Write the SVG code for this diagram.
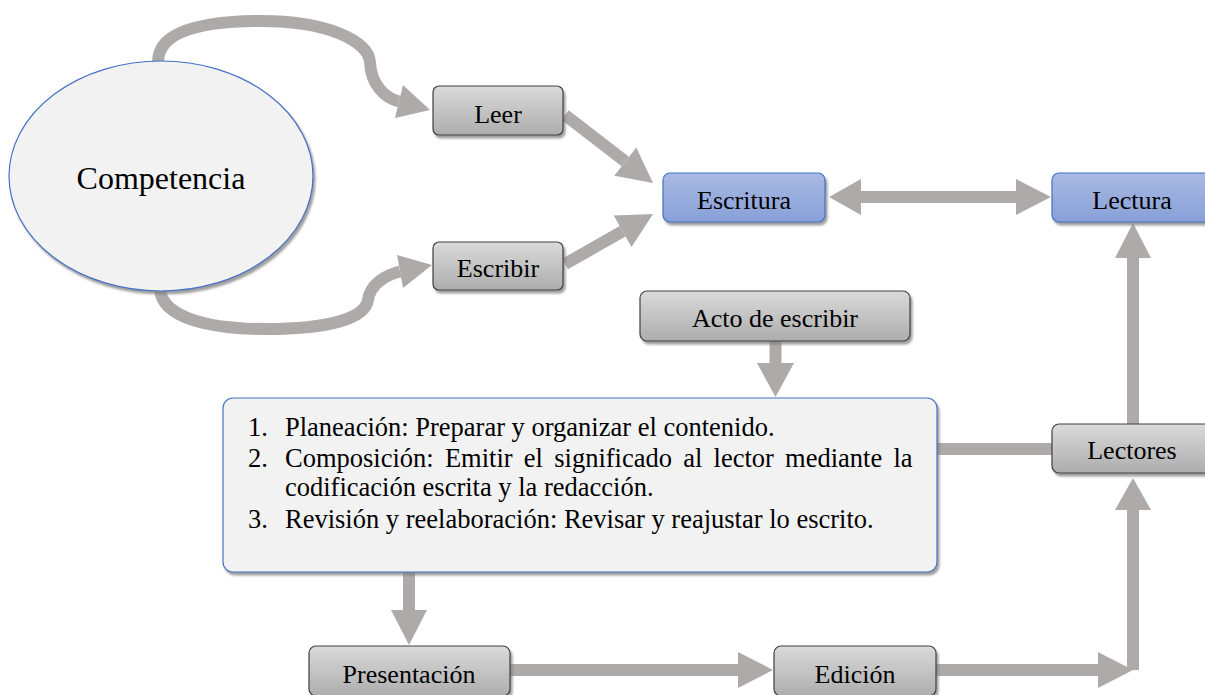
<svg xmlns="http://www.w3.org/2000/svg" width="1205" height="695" viewBox="0 0 1205 695">
<style>
.lbl{font-family:"Liberation Serif","Times New Roman","DejaVu Serif",serif;font-size:26px;fill:#000;text-anchor:middle}
.lst{font-family:"Liberation Serif","Times New Roman","DejaVu Serif",serif;font-size:26.5px;fill:#000}
.gbox{fill:url(#gGray);stroke:#404040;stroke-width:1.2}
.bbox{fill:url(#gBlue);stroke:#4472c4;stroke-width:1.2}
.shaft{stroke:#aeaaaa;stroke-width:12;fill:none}
.head{fill:#aeaaaa;stroke:none}
</style>
<defs>
<linearGradient id="gGray" x1="0" y1="0" x2="0" y2="1">
<stop offset="0" stop-color="#dadada"/>
<stop offset="1" stop-color="#adadad"/>
</linearGradient>
<linearGradient id="gBlue" x1="0" y1="0" x2="0" y2="1">
<stop offset="0" stop-color="#aabae3"/>
<stop offset="1" stop-color="#87a0d8"/>
</linearGradient>
<filter id="sh" x="-10%" y="-10%" width="125%" height="130%">
<feDropShadow dx="2" dy="3" stdDeviation="1.2" flood-color="#7f7f7f" flood-opacity="0.75"/>
</filter>
</defs>
<rect width="1205" height="695" fill="#ffffff"/>

<g id="connectors">
<path class="shaft" d="M158,62 C158,30 205,21 262,21 C325,21 368,40 370,62 C371,85 385,98 399,101.5"/>
<polygon class="head" points="430,110 403,85 395,118"/>
<path class="shaft" d="M160,289 C162,318 210,329 265,329 C330,329 365,318 368,300 C370,285 385,275 400,271.5"/>
<polygon class="head" points="432,265 397,255 403,288"/>
<line class="shaft" x1="565" y1="115" x2="625.3" y2="161.6"/>
<polygon class="head" points="653,183 614.3,175.8 636.3,147.4"/>
<line class="shaft" x1="565" y1="264" x2="622.6" y2="231.3"/>
<polygon class="head" points="653,214 631.5,247 613.7,215.6"/>
<line class="shaft" x1="860" y1="197" x2="1017" y2="197"/>
<polygon class="head" points="829,197 861,179 861,215"/>
<polygon class="head" points="1051,197 1016,179 1016,215"/>
<line class="shaft" x1="775.5" y1="340" x2="775.5" y2="364"/>
<polygon class="head" points="757,363 794,363 775.5,397"/>
<line class="shaft" x1="409" y1="572" x2="409" y2="611"/>
<polygon class="head" points="391,610 427,610 409,645"/>
<line class="shaft" x1="510" y1="670" x2="739" y2="670"/>
<polygon class="head" points="738,652 738,688 773,670"/>
<line class="shaft" x1="936" y1="670" x2="1099" y2="670"/>
<polygon class="head" points="1098,652 1098,688 1133,670"/>
<line class="shaft" x1="1133" y1="670" x2="1133" y2="509"/>
<polygon class="head" points="1115,510 1151,510 1133,478"/>
<line class="shaft" x1="1133" y1="424" x2="1133" y2="257"/>
<polygon class="head" points="1115,258 1151,258 1133,223"/>
<line class="shaft" x1="937" y1="449" x2="1053" y2="449"/>
</g>

<g id="competencia">
<ellipse cx="161" cy="176" rx="152" ry="115" fill="#f2f2f2" stroke="#4472c4" stroke-width="1.2" filter="url(#sh)"/>
<text x="161" y="189" class="lbl" style="font-size:32px">Competencia</text>
</g>
<g id="leer">
<rect x="433" y="86" width="130" height="49" rx="6" class="gbox" filter="url(#sh)"/>
<text x="498" y="123" class="lbl">Leer</text>
</g>
<g id="escribir">
<rect x="433" y="242" width="130" height="48" rx="6" class="gbox" filter="url(#sh)"/>
<text x="498" y="277" class="lbl">Escribir</text>
</g>
<g id="escritura">
<rect x="663" y="173" width="162" height="49" rx="7" class="bbox" filter="url(#sh)"/>
<text x="744" y="209" class="lbl">Escritura</text>
</g>
<g id="lectura">
<rect x="1052" y="173" width="162" height="49" rx="7" class="bbox" filter="url(#sh)"/>
<text x="1132" y="209" class="lbl">Lectura</text>
</g>
<g id="acto">
<rect x="640" y="291" width="270" height="50" rx="7" class="gbox" filter="url(#sh)"/>
<text x="775" y="327" class="lbl">Acto de escribir</text>
</g>
<g id="proceso">
<rect x="223" y="398" width="714" height="174" rx="10" fill="#f2f2f2" stroke="#4472c4" stroke-width="1.2" filter="url(#sh)"/>
<text class="lst">
<tspan x="248" y="436">1.</tspan><tspan x="285" y="436">Planeación: Preparar y organizar el contenido.</tspan>
<tspan x="248" y="467">2.</tspan><tspan x="285" y="467" style="word-spacing:4.6px">Composición: Emitir el significado al lector mediante la</tspan>
<tspan x="285" y="496">codificación escrita y la redacción.</tspan>
<tspan x="248" y="528">3.</tspan><tspan x="285" y="528">Revisión y reelaboración: Revisar y reajustar lo escrito.</tspan>
</text>
</g>
<g id="lectores">
<rect x="1052" y="424" width="162" height="49" rx="7" class="gbox" filter="url(#sh)"/>
<text x="1132" y="459" class="lbl">Lectores</text>
</g>
<g id="presentacion">
<rect x="309" y="646" width="201" height="50" rx="7" class="gbox" filter="url(#sh)"/>
<text x="409" y="683" class="lbl">Presentación</text>
</g>
<g id="edicion">
<rect x="774" y="646" width="162" height="50" rx="7" class="gbox" filter="url(#sh)"/>
<text x="855" y="683" class="lbl">Edición</text>
</g>
</svg>
